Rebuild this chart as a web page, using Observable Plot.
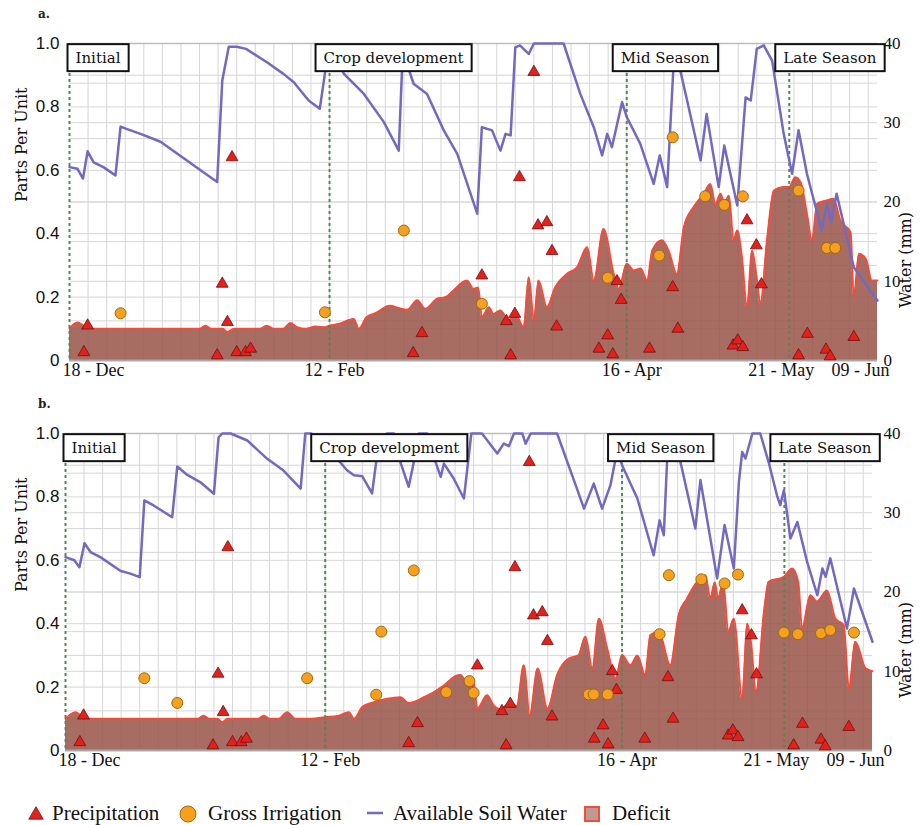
<!DOCTYPE html>
<html><head><meta charset="utf-8">
<script src="https://cdn.jsdelivr.net/npm/d3@7"></script>
<script src="https://cdn.jsdelivr.net/npm/@observablehq/plot@0.6"></script>
<style>
body{margin:0;background:#fff;}
#wrap{position:relative;width:923px;height:825px;overflow:hidden;background:#fff;}
.panel{position:absolute;left:0;}
.plabel{position:absolute;font-family:"DejaVu Serif",serif;font-size:12px;font-weight:bold;color:#222;}
</style></head><body><div id="wrap"></div>
<script>
// ---------- DATA (day offset from 18-Dec, value in parts per unit; 40 mm = 1.0) ----------
const tickLabels = ["18 - Dec", "12 - Feb", "16 - Apr", "21 - May", "09 - Jun"];
const tickDays = [0, 56, 120, 155, 174];
const stageNames = ["Initial", "Crop development", "Mid Season", "Late Season"];
const stageDays = [0, 56, 120, 155];

const precipitation = [[3.1,0.026],[3.9,0.11],[31.8,0.016],[32.9,0.242],[34,0.121],[35,0.641],[36,0.026],[37.9,0.026],[39,0.037],[74,0.023],[75.9,0.086],[88.8,0.268],[94.1,0.124],[95,0.016],[95.9,0.147],[96.9,0.578],[100,0.91],[100.9,0.426],[102.8,0.436],[103.9,0.345],[104.9,0.107],[114,0.037],[115.9,0.079],[117,0.019],[117.9,0.25],[118.8,0.191],[124.9,0.037],[129.9,0.231],[131,0.1],[142.9,0.047],[143.9,0.063],[145,0.042],[145.9,0.442],[147.9,0.363],[149,0.24],[157,0.016],[158.9,0.084],[162.9,0.034],[163.8,0.013],[168.9,0.074]];

const irrigationA = [[11,0.149],[55,0.152],[72,0.41],[88.8,0.179],[115.9,0.261],[127,0.331],[129.9,0.704],[136.9,0.518],[141,0.491],[145,0.518],[157,0.536],[163.1,0.355],[164.9,0.355]];

const soilWaterA = [[0,0.61],[1.7,0.605],[2.9,0.574],[3.9,0.66],[5.2,0.625],[7.3,0.61],[9.9,0.584],[11,0.738],[12.4,0.73],[15.3,0.715],[19.6,0.69],[31.8,0.563],[32.9,0.883],[34.3,0.99],[36,0.99],[38,0.983],[42.6,0.94],[46,0.905],[48.3,0.878],[51.5,0.82],[53.9,0.794],[55.1,0.915],[55.6,0.99],[56.5,0.98],[59.1,0.904],[63.4,0.841],[67.7,0.752],[70.9,0.662],[71.6,0.915],[72.1,0.96],[74.1,0.873],[77,0.841],[80.6,0.726],[83.5,0.652],[87.8,0.463],[88.8,0.736],[91,0.726],[92.8,0.662],[93.9,0.715],[95,0.71],[96,0.988],[97,0.994],[98.9,0.967],[100,1.0],[106.4,1.0],[110,0.841],[112.9,0.736],[114.7,0.647],[115.8,0.715],[116.8,0.673],[119,0.815],[120,0.768],[122.9,0.684],[125.8,0.557],[127.1,0.647],[128.7,0.547],[130,0.91],[130.6,0.96],[131.6,0.91],[133,0.82],[135.9,0.631],[137.2,0.778],[139.8,0.547],[141,0.678],[143.8,0.489],[145.6,0.83],[146.7,0.82],[148,0.983],[149.5,0.994],[151.3,0.946],[153.8,0.715],[155.6,0.589],[157,0.726],[158.8,0.589],[162,0.41],[163.1,0.494],[164,0.436],[165.2,0.526],[168.9,0.294],[174,0.189]];

const deficitA = [[0,0.1],[1.7,0.12],[3,0.11],[4.2,0.1],[28,0.1],[29.3,0.11],[30.5,0.1],[33,0.1],[34,0.09],[35.5,0.1],[41,0.1],[42.5,0.11],[44,0.1],[46,0.1],[47.6,0.118],[49,0.105],[51,0.1],[53,0.107],[55,0.105],[56,0.11],[58,0.115],[61.2,0.131],[62.3,0.1],[64,0.137],[66,0.15],[69,0.173],[71,0.165],[72.7,0.16],[74.9,0.19],[76.6,0.163],[79.2,0.195],[81,0.2],[82.7,0.221],[85.6,0.252],[87,0.226],[88,0.23],[88.8,0.137],[90.3,0.168],[91.3,0.147],[92.8,0.158],[94.6,0.126],[96,0.147],[97.8,0.105],[98.9,0.263],[100,0.126],[101,0.252],[102.8,0.168],[104.6,0.231],[107.1,0.273],[109.3,0.294],[111.5,0.357],[112.9,0.252],[115,0.415],[117.2,0.273],[118.3,0.226],[120,0.305],[121.5,0.284],[123,0.29],[124.4,0.252],[125.5,0.347],[127.6,0.379],[129,0.347],[130.8,0.273],[132.3,0.42],[134.4,0.484],[136.6,0.526],[138,0.557],[139.1,0.494],[140.2,0.526],[141,0.494],[142,0.52],[143,0.379],[143.8,0.41],[144.8,0.326],[145.9,0.168],[147,0.347],[147.9,0.27],[148.8,0.179],[150.2,0.379],[151.7,0.536],[153.8,0.547],[155,0.547],[156.3,0.578],[157.5,0.56],[158.8,0.463],[159.9,0.379],[161,0.494],[163.1,0.505],[164.5,0.51],[166,0.442],[168.2,0.405],[168.9,0.2],[170,0.337],[171.5,0.32],[172.8,0.252],[174,0.252]];

const irrigationB = [[17,0.228],[24.1,0.15],[52.1,0.228],[67,0.176],[68.1,0.375],[75.1,0.568],[82.1,0.184],[87.1,0.219],[88,0.182],[112.8,0.177],[113.9,0.177],[116.9,0.177],[128.1,0.367],[130.1,0.553],[137.1,0.54],[142.1,0.527],[145,0.555],[154.9,0.372],[157.9,0.367],[162.9,0.37],[164.9,0.38],[170,0.372]];

const soilWaterB = [[0,0.61],[1.9,0.6],[3,0.578],[4.1,0.654],[5.4,0.626],[7.5,0.61],[11.9,0.566],[14,0.558],[16,0.547],[17,0.789],[19,0.773],[23,0.736],[24.1,0.896],[26.2,0.87],[29.1,0.846],[32,0.81],[33,0.988],[33.8,1.0],[35.6,1.0],[39.2,0.978],[43.5,0.92],[47,0.883],[50.7,0.826],[51.7,1.0],[53,1.0],[56,0.96],[58,0.93],[60.7,0.884],[62.2,0.868],[64,0.865],[66.1,0.811],[67,0.911],[67.9,0.942],[69.3,1.0],[70.8,1.0],[72.2,0.91],[74,0.832],[75.1,0.91],[76.2,1.0],[78,1.0],[79.8,0.91],[80.9,0.863],[81.6,0.905],[83.7,0.858],[85.9,0.795],[87.5,1.0],[89.8,1.0],[93.1,0.937],[94.5,0.968],[95.6,0.96],[96.7,1.0],[98.5,1.0],[99.2,0.968],[100.3,1.0],[106,1.0],[108.2,0.91],[110,0.837],[111.8,0.763],[113.9,0.842],[115.7,0.763],[117.5,0.837],[119,0.95],[120,0.9],[123.3,0.795],[126.8,0.616],[128.1,0.726],[129,0.679],[129.7,0.91],[130.6,0.97],[132.6,0.91],[135.8,0.7],[136.9,0.853],[140.5,0.543],[142.1,0.711],[144.1,0.574],[145.2,0.848],[145.9,0.942],[146.6,0.921],[148.1,1.0],[149.8,1.0],[151.6,0.91],[153.4,0.805],[154.1,0.774],[154.9,0.821],[156.3,0.669],[157.8,0.721],[159.9,0.595],[162.1,0.49],[163.2,0.574],[163.9,0.548],[164.9,0.606],[168.5,0.385],[170,0.511],[174,0.343]];

const deficitB = [[0,0.1],[2.2,0.121],[3.3,0.11],[4.5,0.1],[28.5,0.1],[29.8,0.11],[31,0.1],[32.8,0.1],[33.8,0.089],[35,0.1],[41.5,0.1],[42.8,0.11],[44,0.1],[46,0.1],[47.8,0.121],[49.5,0.1],[53,0.1],[56,0.105],[59,0.11],[61.1,0.121],[62.2,0.1],[64,0.137],[66,0.15],[69.4,0.163],[72.2,0.168],[74,0.15],[75.5,0.155],[77.3,0.168],[79,0.18],[81.6,0.205],[84.5,0.237],[85.2,0.238],[86.3,0.22],[88,0.217],[88.8,0.132],[90.9,0.174],[92.3,0.143],[93.7,0.13],[96,0.15],[97.3,0.14],[98.8,0.269],[100.1,0.111],[101.8,0.259],[103.9,0.132],[106,0.238],[108.5,0.29],[110.6,0.3],[112.1,0.359],[113.6,0.259],[115,0.416],[116.8,0.322],[118.6,0.227],[120,0.301],[121.8,0.269],[123.3,0.3],[125,0.238],[126.1,0.364],[127.9,0.374],[130.4,0.269],[132.2,0.427],[134,0.479],[136.2,0.532],[138,0.553],[139,0.479],[140,0.53],[140.7,0.48],[141.8,0.532],[142.9,0.374],[144.1,0.416],[145.9,0.164],[147,0.4],[147.8,0.34],[148.9,0.185],[150.6,0.437],[151.6,0.532],[154.9,0.548],[156.7,0.574],[158,0.53],[158.8,0.385],[160.6,0.49],[162,0.47],[164.2,0.505],[166,0.416],[167.8,0.395],[168.9,0.196],[170.3,0.343],[172.5,0.259],[174,0.25]];

const leftTicks = [0, 0.2, 0.4, 0.6, 0.8, 1.0];
const rightTicksMm = [0, 10, 20, 30, 40];

// ---------- HELPERS ----------
const start = Date.UTC(2015, 11, 18);
const toDate = d => new Date(start + d * 864e5);
const rows = arr => arr.map(([d, v]) => ({date: toDate(d), v}));
const serif = "Liberation Serif, serif";
const dserif = "DejaVu Serif, serif";

const COLORS = {
  area: "#985448", defLine: "#f24d3c", asw: "#7469c0",
  tri: "#e3201c", triStroke: "#6e1010", circ: "#f6a01e", circStroke: "#9a6a18",
  stage: "#4f8a4f", grid: "#d6d6d6"
};

const tickNudge = [-7, 5, 5, -8, 12];
const tickAnchor = ["start", "middle", "middle", "middle", "end"];

function makePanel(cfg) {
  const asw = rows(cfg.asw), def = rows(cfg.deficit), irr = rows(cfg.irrigation), pre = rows(precipitation);
  const stages = stageDays.map((d, i) => ({date: toDate(d), name: stageNames[i]}));
  const xt = tickDays.map((d, i) => ({date: toDate(d), label: tickLabels[i]}));
  const gridX = d3.range(4, 174, 4).map(toDate);
  const gridY = [...d3.range(1, 10).map(i => i / 10), ...d3.range(1, 8).map(i => i / 8)];
  const tickMarks = xt.map((t, i) => Plot.text([t], {
    x: "date", text: "label", frameAnchor: "bottom", dy: 15, dx: tickNudge[i],
    textAnchor: tickAnchor[i], fontFamily: serif, fontSize: 18, fill: "#111"
  }));
  return Plot.plot({
    width: 923, height: 390,
    marginTop: 43, marginBottom: 30, marginLeft: cfg.mL, marginRight: cfg.mR,
    x: {type: "utc", domain: [toDate(0), toDate(174)], axis: null},
    y: {domain: [0, 1], axis: null},
    style: {background: "transparent", overflow: "visible"},
    marks: [
      Plot.ruleX(gridX, {stroke: COLORS.grid, strokeWidth: 1}),
      Plot.ruleY(gridY, {stroke: COLORS.grid, strokeWidth: 1}),
      Plot.areaY(def, {x: "date", y: "v", fill: COLORS.area, fillOpacity: 0.85, curve: "monotone-x"}),
      Plot.lineY(def, {x: "date", y: "v", stroke: COLORS.defLine, strokeWidth: 2, curve: "monotone-x"}),
      Plot.ruleX(stages, {x: "date", stroke: COLORS.stage, strokeWidth: 2, strokeDasharray: "3,3"}),
      Plot.ruleY([0], {stroke: "#aaa", strokeWidth: 2}),
      Plot.ruleY([1], {stroke: "#bdbdbd", strokeWidth: 1.5}),
      Plot.lineY(asw, {x: "date", y: "v", stroke: COLORS.asw, strokeWidth: 2.5, strokeLinejoin: "round"}),
      Plot.dot(pre, {x: "date", y: "v", symbol: "triangle", r: 4.4, fill: COLORS.tri, stroke: COLORS.triStroke, strokeWidth: 0.8}),
      Plot.dot(irr, {x: "date", y: "v", r: 5.5, fill: COLORS.circ, stroke: COLORS.circStroke, strokeWidth: 1}),
      Plot.text(stages.slice(0, 1), {x: "date", text: "name", frameAnchor: "top", dy: 9, dx: 6, textAnchor: "start",
        fontFamily: dserif, fontSize: 15, fill: "#111"}),
      Plot.text(stages.slice(1), {x: "date", text: "name", frameAnchor: "top", dy: 9, dx: -6, textAnchor: "start",
        fontFamily: dserif, fontSize: 15, fill: "#111"}),
      Plot.text(leftTicks, {y: d => d, text: d => d === 0 ? "0" : d.toFixed(1), frameAnchor: "left", textAnchor: "end",
        dx: -cfg.lPad, fontFamily: "Liberation Sans, sans-serif", fontSize: 17, fill: "#111"}),
      Plot.text(rightTicksMm, {y: d => d / 40, text: d => String(d), frameAnchor: "right", textAnchor: "start",
        dx: cfg.rPad, fontFamily: serif, fontSize: 17, fill: "#111"}),
      Plot.text(["Parts Per Unit"], {text: d => d, frameAnchor: "left", dx: cfg.titleL, rotate: -90,
        fontFamily: dserif, fontSize: 16, fill: "#111"}),
      Plot.text(["Water (mm)"], {text: d => d, frameAnchor: "right", dx: cfg.titleR, dy: 10, rotate: -90,
        fontFamily: dserif, fontSize: 16, fill: "#111"}),
      ...tickMarks
    ]
  });
}

function boxLabels(svg) {
  const texts = Array.from(svg.querySelectorAll("text")).filter(t => stageNames.includes(t.textContent.trim()));
  for (const t of texts) {
    const bb = t.getBBox();
    const r = document.createElementNS("http://www.w3.org/2000/svg", "rect");
    r.setAttribute("x", bb.x - 8);
    r.setAttribute("y", bb.y - 5);
    r.setAttribute("width", bb.width + 16);
    r.setAttribute("height", bb.height + 9);
    const tr = t.getAttribute("transform");
    if (tr) r.setAttribute("transform", tr);
    r.setAttribute("fill", "#fff");
    r.setAttribute("stroke", "#111");
    r.setAttribute("stroke-width", "2");
    t.parentNode.insertBefore(r, t);
  }
}

const wrap = document.getElementById("wrap");
const panels = [
  {top: 0, asw: soilWaterA, deficit: deficitA, irrigation: irrigationA, mL: 69, mR: 46, lPad: 10, rPad: 6, titleL: -48, titleR: 28, tag: "a."},
  {top: 390, asw: soilWaterB, deficit: deficitB, irrigation: irrigationB, mL: 65, mR: 51, lPad: 6, rPad: 11, titleL: -44, titleR: 33, tag: "b."}
];
for (const p of panels) {
  const svg = makePanel(p);
  svg.classList.add("panel");
  svg.style.top = p.top + "px";
  wrap.appendChild(svg);
  boxLabels(svg);
  const lab = document.createElement("div");
  lab.className = "plabel";
  lab.textContent = p.tag;
  lab.style.left = "38px";
  lab.style.top = (p.top + 7) + "px";
  wrap.appendChild(lab);
}

// ---------- LEGEND ----------
const legendItems = [
  {label: "Precipitation", kind: "tri", x: 36, tx: 52},
  {label: "Gross Irrigation", kind: "circ", x: 188, tx: 208},
  {label: "Available Soil Water", kind: "line", x: 375, tx: 393},
  {label: "Deficit", kind: "sq", x: 592, tx: 612}
];
const leg = d3.select(wrap).append("svg")
  .attr("width", 923).attr("height", 40)
  .style("position", "absolute").style("left", "0px").style("top", "785px");
const cy = 29;
for (const it of legendItems) {
  if (it.kind === "tri") {
    leg.append("path").attr("d", d3.symbol(d3.symbolTriangle, 90)()).attr("transform", `translate(${it.x},${cy + 1})`)
      .attr("fill", COLORS.tri).attr("stroke", COLORS.triStroke).attr("stroke-width", 0.8);
  } else if (it.kind === "circ") {
    leg.append("circle").attr("cx", it.x).attr("cy", cy).attr("r", 8)
      .attr("fill", COLORS.circ).attr("stroke", COLORS.circStroke).attr("stroke-width", 1);
  } else if (it.kind === "line") {
    leg.append("line").attr("x1", it.x - 8).attr("x2", it.x + 8).attr("y1", cy - 1).attr("y2", cy - 1)
      .attr("stroke", COLORS.asw).attr("stroke-width", 2.5);
  } else {
    leg.append("rect").attr("x", it.x - 7).attr("y", cy - 7).attr("width", 14).attr("height", 14)
      .attr("fill", COLORS.area).attr("fill-opacity", 0.6).attr("stroke", COLORS.defLine).attr("stroke-width", 2);
  }
  leg.append("text").attr("x", it.tx).attr("y", cy + 6).text(it.label)
    .attr("font-family", serif).attr("font-size", 21).attr("fill", "#111");
}
</script>
</body></html>
